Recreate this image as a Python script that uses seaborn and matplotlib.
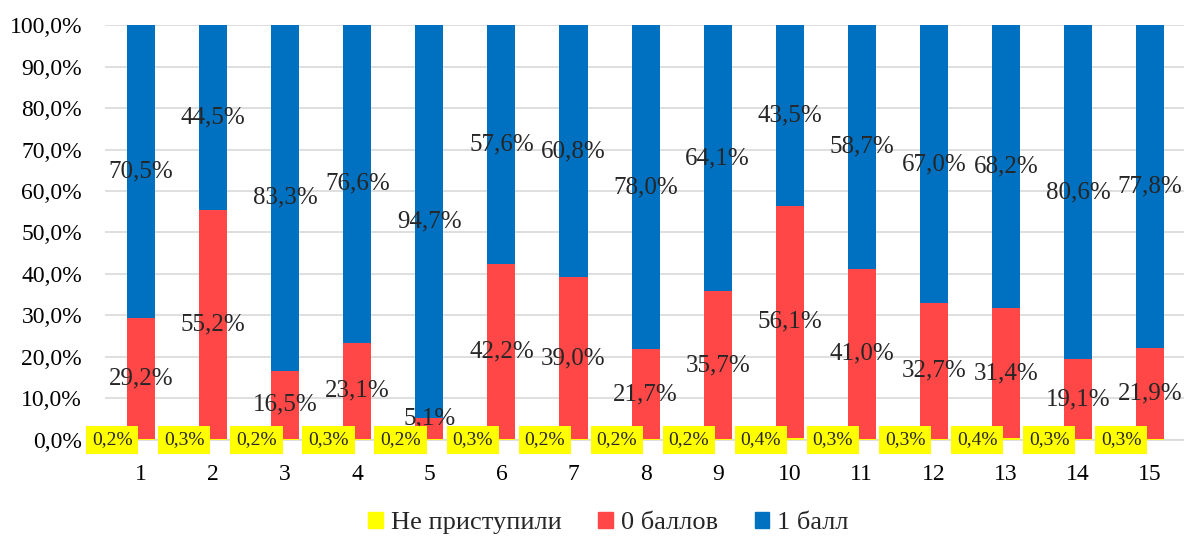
import matplotlib.pyplot as plt
import seaborn as sns
import numpy as np
import pandas as pd

# data (percent)
tasks = ["1", "2", "3", "4", "5", "6", "7", "8", "9", "10", "11", "12", "13", "14", "15"]
not_started = [0.2, 0.3, 0.2, 0.3, 0.2, 0.3, 0.2, 0.2, 0.2, 0.4, 0.3, 0.3, 0.4, 0.3, 0.3]
zero_points = [29.2, 55.2, 16.5, 23.1, 5.1, 42.2, 39.0, 21.7, 35.7, 56.1, 41.0, 32.7, 31.4, 19.1, 21.9]
one_point = [70.5, 44.5, 83.3, 76.6, 94.7, 57.6, 60.8, 78.0, 64.1, 43.5, 58.7, 67.0, 68.2, 80.6, 77.8]

series_names = ["Не приступили", "0 баллов", "1 балл"]
colors = ["#FFFF00", "#FF4747", "#0070C0"]

df = pd.DataFrame({"task": tasks, "ns": not_started, "zero": zero_points, "one": one_point})
total = df["ns"] + df["zero"] + df["one"]
# 100% stacked: normalise each column
df["ns_p"] = df["ns"] / total * 100
df["zero_p"] = df["zero"] / total * 100
df["one_p"] = df["one"] / total * 100
df["top1"] = df["ns_p"]
df["top2"] = df["ns_p"] + df["zero_p"]
df["top3"] = df["top2"] + df["one_p"]

sns.set_style("white")
plt.rcParams["font.family"] = ["Liberation Serif", "DejaVu Serif"]

fig = plt.figure(figsize=(11.84, 5.38), dpi=100)
ax = fig.add_axes([0.0887, 0.1822, 0.9113, 0.7713])

# draw cumulative heights back to front
for col, c in zip(["top3", "top2", "top1"], colors[::-1]):
    sns.barplot(data=df, x="task", y=col, color=c, width=0.39, ax=ax,
                saturation=1, errorbar=None, linewidth=0, zorder=3)

ax.set_ylim(0, 100)
ax.set_xlim(-0.5, 14.47)
ax.set_yticks(np.arange(0, 101, 10))
ax.set_yticklabels([f"{v:.1f}%".replace(".", ",") for v in np.arange(0, 101, 10)])
ax.set_xlabel("")
ax.set_ylabel("")
ax.yaxis.grid(True, color="#D9D9D9", linewidth=1.2, zorder=0)
ax.set_axisbelow(True)
for s in ["top", "right", "left"]:
    ax.spines[s].set_visible(False)
ax.spines["bottom"].set_color("#D9D9D9")
ax.spines["bottom"].set_linewidth(1.2)
ax.tick_params(axis="both", length=0, labelsize=17, colors="black")
ax.tick_params(axis="x", pad=17)
ax.tick_params(axis="y", pad=16.5)

# value labels
for i, row in df.iterrows():
    ax.text(i, row["top2"] + row["one_p"] / 2, f"{row['one']:.1f}%".replace(".", ","),
            ha="center", va="center", fontsize=18, zorder=5)
    ax.text(i, max(row["top1"] + row["zero_p"] / 2, 5.2), f"{row['zero']:.1f}%".replace(".", ","),
            ha="center", va="center", fontsize=18, zorder=5)
    ax.text(i - 0.4, 0.0, f"{row['ns']:.1f}%".replace(".", ","),
            ha="center", va="center", fontsize=14, zorder=6,
            bbox=dict(boxstyle="square,pad=0.3", facecolor="#FFFF00", edgecolor="none"))

handles = [plt.Rectangle((0, 0), 1, 1, color=c) for c in colors]
fig.legend(handles, series_names, loc="center", bbox_to_anchor=(0.514, 0.028), ncol=3,
           frameon=False, fontsize=19, handlelength=0.55, handleheight=0.55,
           handletextpad=0.3, columnspacing=1.4)

plt.savefig("out.png", dpi=100)
